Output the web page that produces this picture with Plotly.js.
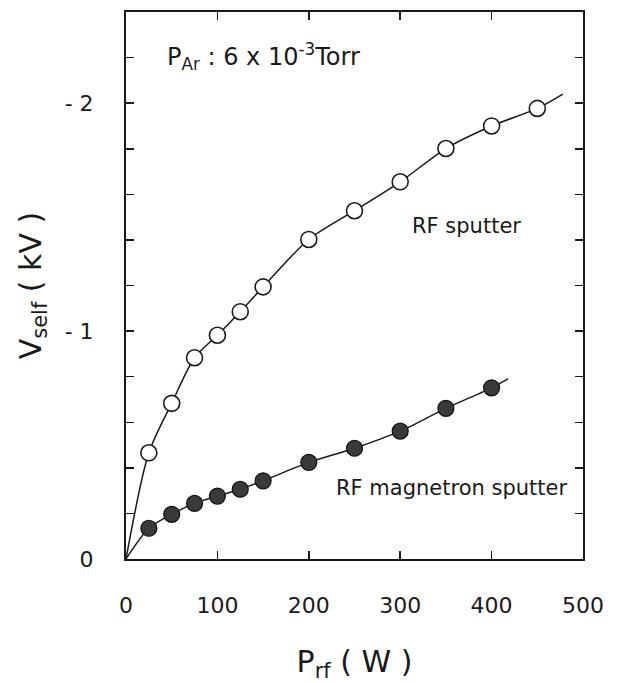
<!DOCTYPE html>
<html>
<head>
<meta charset="utf-8">
<script src="https://cdn.plot.ly/plotly-3.0.1.min.js"></script>
<style>html,body{margin:0;padding:0;background:#fff;}#chart{width:623px;height:683px;}</style>
</head>
<body>
<div id="chart"></div>
<script>
// RF sputter (open circles)
const rfPower = [25, 50, 75, 100, 125, 150, 200, 250, 300, 350, 400, 450];
const rfVself = [-0.466, -0.683, -0.883, -0.982, -1.085, -1.194, -1.402, -1.528, -1.655, -1.801, -1.900, -1.977];
// RF magnetron sputter (filled circles)
const magPower = [25, 50, 75, 100, 125, 150, 200, 250, 300, 350, 400];
const magVself = [-0.135, -0.196, -0.244, -0.276, -0.306, -0.343, -0.424, -0.486, -0.561, -0.661, -0.751];
// fitted curve ends (origin and extrapolated end)
const rfCurveStart = [0, 0], rfCurveEnd = [478, -2.04];
const magCurveStart = [0, 0], magCurveEnd = [418, -0.79];
// ticks
const xTickVals = [0, 100, 200, 300, 400, 500];
const xTickText = ['0', '100', '200', '300', '400', '500'];
const yTickVals = [0, -0.2, -0.4, -0.6, -0.8, -1, -1.2, -1.4, -1.6, -1.8, -2, -2.2];
const yTickText = ['0', '', '', '', '', '- 1', '', '', '', '', '- 2', ''];

const rfCurveX = [rfCurveStart[0]].concat(rfPower, [rfCurveEnd[0]]);
const rfCurveY = [rfCurveStart[1]].concat(rfVself, [rfCurveEnd[1]]);
const magCurveX = [magCurveStart[0]].concat(magPower, [magCurveEnd[0]]);
const magCurveY = [magCurveStart[1]].concat(magVself, [magCurveEnd[1]]);

const font = "'DejaVu Sans', sans-serif";
const ink = '#1a1a1a';

const traces = [
  {x: rfCurveX, y: rfCurveY, mode: 'lines', line: {color: ink, width: 1.5, shape: 'spline', smoothing: 0.8}, hoverinfo: 'skip', showlegend: false},
  {x: magCurveX, y: magCurveY, mode: 'lines', line: {color: ink, width: 1.5, shape: 'spline', smoothing: 0.8}, hoverinfo: 'skip', showlegend: false},
  {x: rfPower, y: rfVself, mode: 'markers', name: 'RF sputter',
   marker: {symbol: 'circle', size: 16, color: '#ffffff', line: {color: ink, width: 1.6}}, showlegend: false},
  {x: magPower, y: magVself, mode: 'markers', name: 'RF magnetron sputter',
   marker: {symbol: 'circle', size: 16, color: '#3a3a3a', line: {color: '#111', width: 1.2}}, showlegend: false}
];

const layout = {
  width: 623, height: 683,
  margin: {l: 126, r: 40, t: 12, b: 124},
  paper_bgcolor: '#fff', plot_bgcolor: '#fff',
  font: {family: font, color: ink},
  showlegend: false,
  xaxis: {
    range: [0, 500], tickvals: xTickVals, ticktext: xTickText,
    ticks: 'inside', ticklen: 8, tickwidth: 1.5, tickcolor: ink,
    showline: true, linewidth: 2, linecolor: ink, mirror: 'allticks',
    showgrid: false, zeroline: false,
    tickfont: {size: 22, family: font, color: ink},
    ticklabelstandoff: 26,
    title: {text: 'P<sub>rf</sub> ( W )', font: {size: 30, family: font, color: ink}, standoff: 34}
  },
  yaxis: {
    range: [0, -2.4], tickvals: yTickVals, ticktext: yTickText,
    ticks: 'inside', ticklen: 8, tickwidth: 1.5, tickcolor: ink,
    showline: true, linewidth: 2, linecolor: ink, mirror: 'allticks',
    showgrid: false, zeroline: false,
    tickfont: {size: 22, family: font, color: ink},
    ticklabelstandoff: 26,
    title: {text: 'V<sub>self</sub> ( kV )', font: {size: 30, family: font, color: ink}, standoff: 14}
  },
  annotations: [
    {xref: 'paper', yref: 'paper', x: 0.085, y: 0.918, xanchor: 'left', yanchor: 'middle', showarrow: false,
     text: 'P<sub>Ar</sub> : 6 x 10<sup>-3</sup>Torr', font: {size: 24, family: font, color: ink}},
    {xref: 'x', yref: 'y', x: 372, y: -1.46, xanchor: 'center', yanchor: 'middle', showarrow: false,
     text: 'RF sputter', font: {size: 21, family: font, color: ink}},
    {xref: 'x', yref: 'y', x: 356, y: -0.31, xanchor: 'center', yanchor: 'middle', showarrow: false,
     text: 'RF magnetron sputter', font: {size: 21, family: font, color: ink}}
  ]
};

Plotly.newPlot('chart', traces, layout, {staticPlot: true, displayModeBar: false});
</script>
</body>
</html>
